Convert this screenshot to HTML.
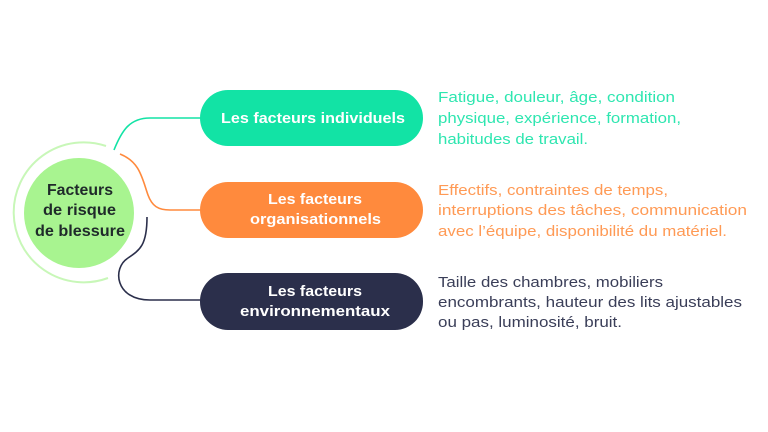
<!DOCTYPE html>
<html><head><meta charset="utf-8"><style>
html,body{margin:0;padding:0;background:#fff;width:768px;height:432px;overflow:hidden}
svg{display:block}
text{font-family:"Liberation Sans",sans-serif}
</style></head><body>
<svg width="768" height="432" viewBox="0 0 768 432" xmlns="http://www.w3.org/2000/svg">
<path d="M106,146 A70,70 0 1 0 108,278" fill="none" stroke="#c8f7b8" stroke-width="2"/>
<circle cx="79" cy="213" r="55" fill="#a8f490"/>
<path d="M114,150 C122,130 130,118 150,118 L205,118" fill="none" stroke="#12e3a5" stroke-width="1.6"/>
<path d="M120,154 C140,162 142,178 148,195 C152,206 158,210 170,210 L205,210" fill="none" stroke="#ff8a3d" stroke-width="1.6"/>
<path d="M147,217 C147,245 140,250 128,258 C112,268 115,300 150,300 L205,300" fill="none" stroke="#2b2f4b" stroke-width="1.6"/>
<rect x="200" y="90" width="223" height="56" rx="28" fill="#12e3a5"/>
<rect x="200" y="182" width="223" height="56" rx="28" fill="#ff8a3d"/>
<rect x="200" y="273" width="223" height="57" rx="28" fill="#2b2f4b"/>
<g fill="#fff" font-weight="bold" font-size="15">
<text x="221" y="123" textLength="184" lengthAdjust="spacingAndGlyphs">Les facteurs individuels</text>
<text x="268" y="204" textLength="94" lengthAdjust="spacingAndGlyphs">Les facteurs</text>
<text x="250" y="224" textLength="131" lengthAdjust="spacingAndGlyphs">organisationnels</text>
<text x="268" y="296" textLength="94" lengthAdjust="spacingAndGlyphs">Les facteurs</text>
<text x="240" y="316" textLength="150" lengthAdjust="spacingAndGlyphs">environnementaux</text>
</g>
<g fill="#1f2a2a" font-weight="bold" font-size="16">
<text x="47" y="195" textLength="66" lengthAdjust="spacingAndGlyphs">Facteurs</text>
<text x="43" y="215" textLength="73" lengthAdjust="spacingAndGlyphs">de risque</text>
<text x="35" y="236" textLength="90" lengthAdjust="spacingAndGlyphs">de blessure</text>
</g>
<g font-size="15">
<g fill="#2ee6b0">
<text x="438" y="102" textLength="237" lengthAdjust="spacingAndGlyphs">Fatigue, douleur, âge, condition</text>
<text x="438" y="123" textLength="243" lengthAdjust="spacingAndGlyphs">physique, expérience, formation,</text>
<text x="438" y="144" textLength="150" lengthAdjust="spacingAndGlyphs">habitudes de travail.</text>
</g>
<g fill="#ff9a55">
<text x="438" y="195" textLength="230" lengthAdjust="spacingAndGlyphs">Effectifs, contraintes de temps,</text>
<text x="438" y="215" textLength="309" lengthAdjust="spacingAndGlyphs">interruptions des tâches, communication</text>
<text x="438" y="236" textLength="289" lengthAdjust="spacingAndGlyphs">avec l’équipe, disponibilité du matériel.</text>
</g>
<g fill="#3a3e58">
<text x="438" y="287" textLength="225" lengthAdjust="spacingAndGlyphs">Taille des chambres, mobiliers</text>
<text x="438" y="307" textLength="304" lengthAdjust="spacingAndGlyphs">encombrants, hauteur des lits ajustables</text>
<text x="438" y="327" textLength="184" lengthAdjust="spacingAndGlyphs">ou pas, luminosité, bruit.</text>
</g>
</g>
</svg>
</body></html>
